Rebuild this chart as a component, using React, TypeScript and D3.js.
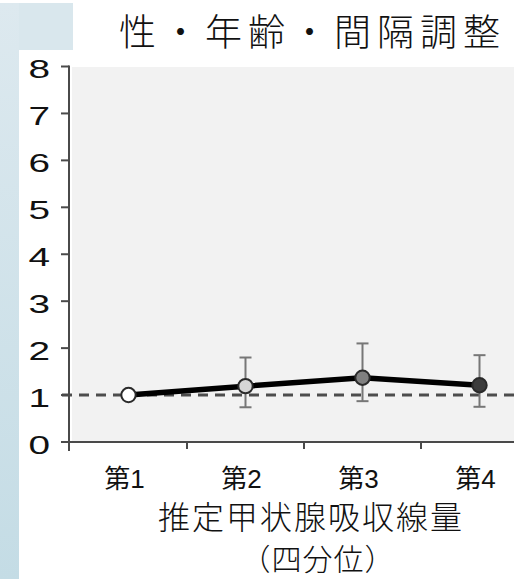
import React from "react";
import * as d3 from "d3";

const categories = ["第1", "第2", "第3", "第4"];
const hazardRatio = [1.0, 1.19, 1.37, 1.21];
const ciLower: (number | null)[] = [null, 0.74, 0.87, 0.75];
const ciUpper: (number | null)[] = [null, 1.8, 2.1, 1.85];
const yTicks = [0, 1, 2, 3, 4, 5, 6, 7, 8];
const titleText = "性・年齢・間隔調整";
const xTitleLine1 = "推定甲状腺吸収線量";
const xTitleLine2 = "（四分位）";

const markerFills = ["#ffffff", "#d6d6d6", "#808080", "#3c3c3c"];

const W = 514;
const H = 579;

export default function App() {
  const x = d3.scaleBand<string>().domain(categories).range([70, 538]).padding(0);
  const y = d3.scaleLinear().domain([0, 8]).range([442, 66.5]);
  const cx = (c: string) => (x(c) as number) + x.bandwidth() / 2;

  const line = d3
    .line<number>()
    .x((_, i) => cx(categories[i]))
    .y((d) => y(d));

  const axisColor = "#4a4a4a";
  const jp = "'Noto Sans CJK JP', sans-serif";

  return (
    <svg
      width={W}
      height={H}
      style={{ position: "absolute", left: 0, top: 0, display: "block", background: "#ffffff" }}
    >
      <defs>
        <linearGradient id="side" x1="0" y1="0" x2="0" y2="1">
          <stop offset="0" stopColor="#dde9ef" />
          <stop offset="1" stopColor="#c4dce5" />
        </linearGradient>
      </defs>
      {/* page background */}
      <rect x={0} y={0} width={W} height={H} fill="#ffffff" />
      <rect x={0} y={3} width={73} height={47} fill="#d9e7ed" />
      <rect x={0} y={3} width={19} height={H - 3} fill="url(#side)" />

      {/* plot area */}
      <rect x={72} y={67} width={W - 72} height={y(0) - 67} fill="#f2f2f2" />

      {/* title */}
      <text x={119} y={46} fontFamily={jp} fontWeight={300} fontSize={37} letterSpacing={6} fill="#111">
        {titleText}
      </text>

      {/* reference line at 1 */}
      <line
        x1={62}
        x2={W}
        y1={y(1)}
        y2={y(1)}
        stroke="#4d4d4d"
        strokeWidth={3}
        strokeDasharray="10 7"
      />

      {/* y axis */}
      <line x1={69} x2={69} y1={y(8) - 1} y2={451} stroke={axisColor} strokeWidth={2} />
      {yTicks.map((t) => (
        <g key={t}>
          <line x1={61} x2={69} y1={y(t)} y2={y(t)} stroke={axisColor} strokeWidth={2} />
          <text
            transform={`translate(50, ${y(t) + 3}) scale(1.55, 1)`}
            textAnchor="end"
            dominantBaseline="central"
            fontFamily="'Liberation Sans', Arial, sans-serif"
            fontSize={25}
            fill="#111"
          >
            {t}
          </text>
        </g>
      ))}

      {/* x axis */}
      <line x1={62} x2={W} y1={y(0)} y2={y(0)} stroke={axisColor} strokeWidth={2} />
      {categories.slice(1).map((c) => (
        <line
          key={c}
          x1={x(c) as number}
          x2={x(c) as number}
          y1={y(0)}
          y2={y(0) + 7}
          stroke={axisColor}
          strokeWidth={2}
        />
      ))}
      {categories.map((c) => (
        <text key={c} x={cx(c) - 4} y={488} textAnchor="middle" fill="#111">
          <tspan fontFamily={jp} fontSize={26}>
            {c.slice(0, 1)}
          </tspan>
          <tspan fontFamily="'Liberation Sans', Arial, sans-serif" fontSize={26}>
            {c.slice(1)}
          </tspan>
        </text>
      ))}

      {/* x axis title */}
      <text x={311} y={529} textAnchor="middle" fontFamily={jp} fontWeight={300} fontSize={32} letterSpacing={2} fill="#111">
        {xTitleLine1}
      </text>
      <text x={318} y={570} textAnchor="middle" fontFamily={jp} fontWeight={300} fontSize={30} letterSpacing={1} fill="#111">
        {xTitleLine2}
      </text>

      {/* error bars */}
      {categories.map((c, i) => {
        const lo = ciLower[i];
        const hi = ciUpper[i];
        if (lo == null || hi == null) return null;
        const px = cx(c);
        return (
          <g key={c} stroke="#777" strokeWidth={2}>
            <line x1={px} x2={px} y1={y(hi)} y2={y(lo)} />
            <line x1={px - 6} x2={px + 6} y1={y(hi)} y2={y(hi)} />
            <line x1={px - 6} x2={px + 6} y1={y(lo)} y2={y(lo)} />
          </g>
        );
      })}

      {/* main line */}
      <path d={line(hazardRatio) || ""} fill="none" stroke="#000" strokeWidth={5.5} strokeLinejoin="round" />

      {/* markers */}
      {categories.map((c, i) => (
        <circle
          key={c}
          cx={cx(c)}
          cy={y(hazardRatio[i])}
          r={7.2}
          fill={markerFills[i]}
          stroke="#2a2a2a"
          strokeWidth={2}
        />
      ))}
    </svg>
  );
}
